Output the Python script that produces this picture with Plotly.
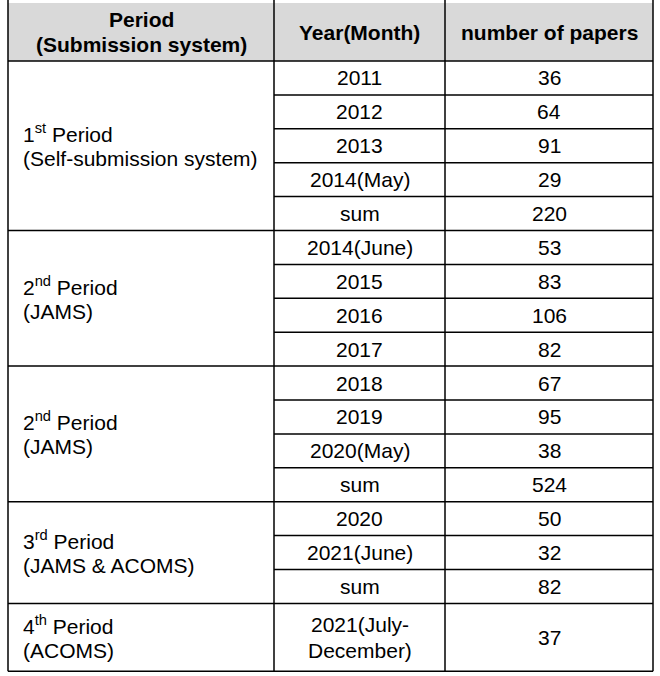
import plotly.graph_objects as go

# ---------------- data ----------------
period_ordinals = ["1", "2", "2", "3", "4"]
period_suffixes = ["st", "nd", "nd", "rd", "th"]
period_systems = ["(Self-submission system)", "(JAMS)", "(JAMS)", "(JAMS & ACOMS)", "(ACOMS)"]

year_labels = [
    ["2011", "2012", "2013", "2014(May)", "sum"],
    ["2014(June)", "2015", "2016", "2017"],
    ["2018", "2019", "2020(May)", "sum"],
    ["2020", "2021(June)", "sum"],
    ["2021(July-<br>December)"],
]
paper_counts = [
    [36, 64, 91, 29, 220],
    [53, 83, 106, 82],
    [67, 95, 38, 524],
    [50, 32, 82],
    [37],
]
header_labels = ["Period<br>(Submission system)", "Year(Month)", "number of papers"]

# ---------------- layout constants ----------------
W, H = 660, 676
UNIT = 33.9                     # px per row unit
HEADER_BOTTOM_PX = 61
HEADER_TOP_PX = 3
COL_EDGES = [8, 274, 445, 653]
PERIOD_TEXT_X = 21
LINE_GAP = 25.5                 # px between text lines
FONT = "Liberation Sans, Arial, sans-serif"
BODY_SIZE = 21
HEAD_SIZE = 21
LINE_W = 1.5

y_top = -HEADER_BOTTOM_PX / UNIT
y_bottom = (H - HEADER_BOTTOM_PX) / UNIT
header_top = -(HEADER_BOTTOM_PX - HEADER_TOP_PX) / UNIT

fig = go.Figure()
shapes = []
annotations = []


def add_text(x, y, text, xanchor="center", bold=False, size=BODY_SIZE):
    lines = text.split("<br>")
    n = len(lines)
    for i, ln in enumerate(lines):
        shift = ((n - 1) / 2 - i) * LINE_GAP
        annotations.append(dict(
            x=x, y=y, xref="x", yref="y", yshift=shift,
            text=f"<b>{ln}</b>" if bold else ln,
            showarrow=False, xanchor=xanchor, yanchor="middle",
            font=dict(family=FONT, size=size, color="#000000"),
        ))


def hline(x0, x1, y):
    shapes.append(dict(type="line", xref="x", yref="y", x0=x0, x1=x1, y0=y, y1=y,
                       line=dict(color="#000000", width=LINE_W)))


# header background
shapes.append(dict(type="rect", xref="x", yref="y", x0=COL_EDGES[0], x1=COL_EDGES[-1],
                   y0=header_top, y1=0, fillcolor="#d9d9d9", line=dict(width=0), layer="below"))

# header text
for c, lab in enumerate(header_labels):
    cx = (COL_EDGES[c] + COL_EDGES[c + 1]) / 2
    add_text(cx, header_top / 2, lab, bold=True, size=HEAD_SIZE)

hline(COL_EDGES[0], COL_EDGES[-1], 0)

# body
cursor = 0.0
col2_cx = (COL_EDGES[1] + COL_EDGES[2]) / 2
col3_cx = (COL_EDGES[2] + COL_EDGES[3]) / 2
for p in range(len(year_labels)):
    start = cursor
    span = sum(2 if "<br>" in l else 1 for l in year_labels[p])
    for lab, cnt in zip(year_labels[p], paper_counts[p]):
        h = 2 if "<br>" in lab else 1
        mid = cursor + h / 2
        add_text(col2_cx, mid, lab)
        add_text(col3_cx, mid, str(cnt))
        cursor += h
        if cursor < start + span:
            hline(COL_EDGES[1], COL_EDGES[3], cursor)
    pmid = (start + cursor) / 2
    add_text(PERIOD_TEXT_X, pmid,
             f"{period_ordinals[p]}<sup>{period_suffixes[p]}</sup> Period<br>{period_systems[p]}",
             xanchor="left")
    hline(COL_EDGES[0], COL_EDGES[-1], cursor)

# vertical lines
for xe in COL_EDGES:
    shapes.append(dict(type="line", xref="x", yref="y", x0=xe, x1=xe, y0=y_top, y1=cursor,
                       line=dict(color="#000000", width=LINE_W)))

fig.update_layout(
    width=W, height=H,
    margin=dict(l=0, r=0, t=0, b=0),
    paper_bgcolor="white", plot_bgcolor="white",
    xaxis=dict(range=[0, W], visible=False, fixedrange=True),
    yaxis=dict(range=[y_bottom, y_top], visible=False, fixedrange=True),
    shapes=shapes, annotations=annotations,
    showlegend=False,
)

fig.write_html(
    "out.html",
    config={"displayModeBar": False},
    post_script="document.body.style.margin='0px';document.body.style.overflow='hidden';",
)
